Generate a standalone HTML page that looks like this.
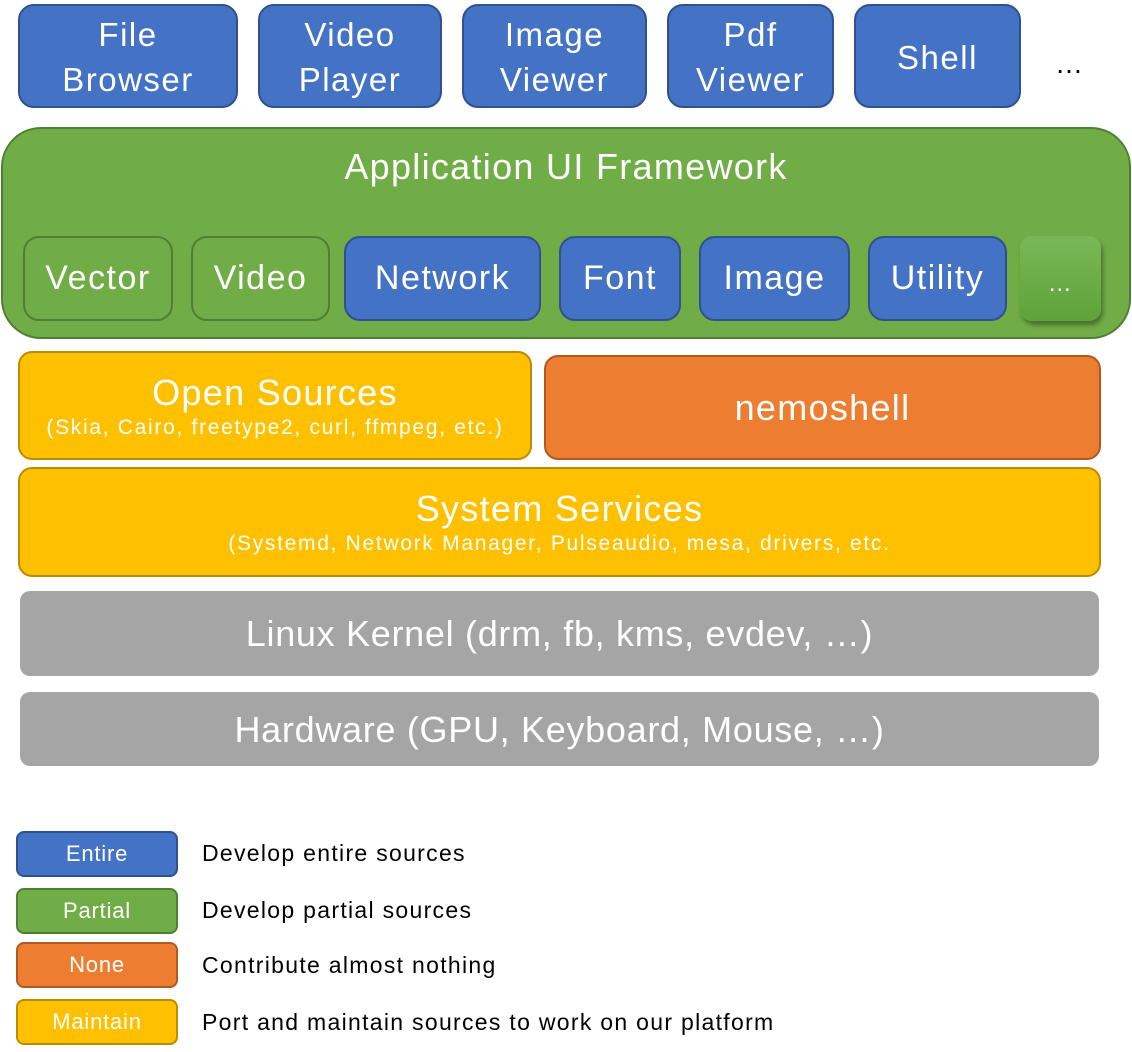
<!DOCTYPE html>
<html><head><meta charset="utf-8"><style>
body{margin:0;width:1132px;height:1052px;background:#fff;position:relative;overflow:hidden;font-family:"Liberation Sans","Noto Sans CJK KR",sans-serif;}
.b{position:absolute;box-sizing:border-box;display:flex;flex-direction:column;align-items:center;justify-content:center;text-align:center;color:#fff;line-height:1.25;letter-spacing:1.3px;}
.blue{background:#4472c4;border:2px solid #2f528f;border-radius:16px;}
.green{background:#70ad47;border:2px solid #507e32;border-radius:16px;}
.orange{background:#ed7d31;border:2px solid #ae5a21;border-radius:14px;}
.yellow{background:#ffc000;border:2px solid #bc8c00;border-radius:14px;}
.gray{background:#a5a5a5;border-radius:10px;}
.top{font-size:33px;top:4px;height:104px;line-height:1.35;letter-spacing:1.5px;padding-top:4px;}
.in{font-size:34px;top:236px;height:85px;letter-spacing:1.5px;}
.lg{left:16px;width:162px;height:46px;font-size:22px;border-radius:8px;letter-spacing:0.8px;}
.lt{position:absolute;left:202px;font-size:23px;color:#000;letter-spacing:1.3px;}
.sub{font-size:21px;letter-spacing:1.7px;}
</style></head><body>
<div class="b blue top" style="left:18px;width:220px">File<br>Browser</div>
<div class="b blue top" style="left:258px;width:184px">Video<br>Player</div>
<div class="b blue top" style="left:462px;width:185px">Image<br>Viewer</div>
<div class="b blue top" style="left:667px;width:167px">Pdf<br>Viewer</div>
<div class="b blue top" style="left:854px;width:167px">Shell</div>
<div style="position:absolute;left:1055px;top:48px;font-size:28px;">…</div>

<div class="b green" style="left:1px;top:127px;width:1130px;height:212px;border-radius:40px;"></div>
<div style="position:absolute;left:0;width:1132px;top:146px;text-align:center;color:#fff;font-size:36px;letter-spacing:1.3px;">Application UI Framework</div>
<div class="b green in" style="left:23px;width:150px">Vector</div>
<div class="b green in" style="left:191px;width:139px">Video</div>
<div class="b blue in" style="left:344px;width:197px">Network</div>
<div class="b blue in" style="left:559px;width:122px">Font</div>
<div class="b blue in" style="left:699px;width:151px">Image</div>
<div class="b blue in" style="left:868px;width:139px">Utility</div>
<div class="b in" style="left:1020px;width:81px;border-radius:12px;background:linear-gradient(#7ab857,#5fa23a);box-shadow:2px 4px 5px rgba(0,0,0,0.35);font-size:24px;padding-top:10px;">…</div>

<div class="b yellow" style="left:18px;top:351px;width:514px;height:109px;"><div style="font-size:36px">Open Sources</div><div class="sub">(Skia, Cairo, freetype2, curl, ffmpeg, etc.)</div></div>
<div class="b orange" style="left:544px;top:355px;width:557px;height:105px;font-size:36px;">nemoshell</div>
<div class="b yellow" style="left:18px;top:467px;width:1083px;height:110px;"><div style="font-size:36px">System Services</div><div class="sub">(Systemd, Network Manager, Pulseaudio, mesa, drivers, etc.</div></div>
<div class="b gray" style="left:20px;top:591px;width:1079px;height:85px;font-size:36px;letter-spacing:0.7px;">Linux Kernel (drm, fb, kms, evdev, …)</div>
<div class="b gray" style="left:20px;top:692px;width:1079px;height:74px;font-size:36px;letter-spacing:0.7px;">Hardware (GPU, Keyboard, Mouse, …)</div>

<div class="b blue lg" style="top:831px;">Entire</div>
<div class="b green lg" style="top:888px;">Partial</div>
<div class="b orange lg" style="top:942px;border-radius:8px;">None</div>
<div class="b yellow lg" style="top:999px;border-radius:8px;">Maintain</div>
<div class="lt" style="top:840px">Develop entire sources</div>
<div class="lt" style="top:897px">Develop partial sources</div>
<div class="lt" style="top:952px">Contribute almost nothing</div>
<div class="lt" style="top:1009px">Port and maintain sources to work on our platform</div>
</body></html>
